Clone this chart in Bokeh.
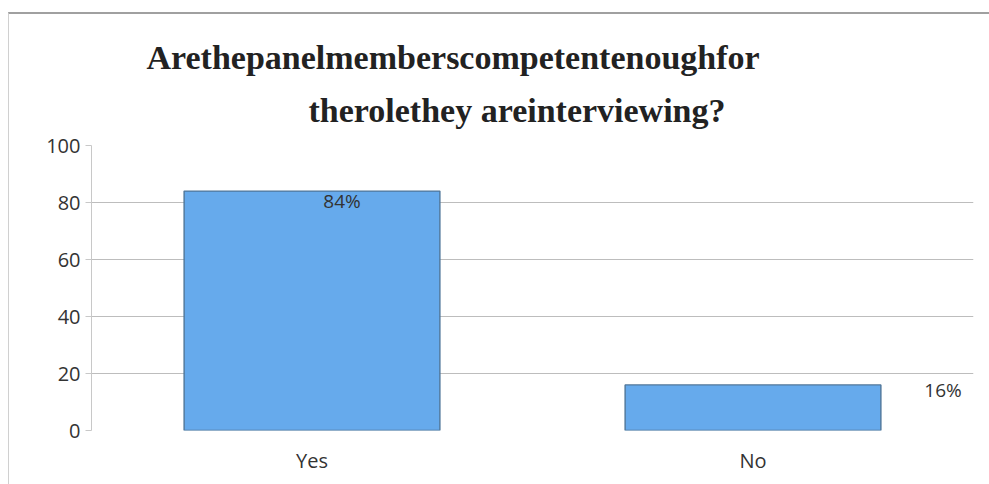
from bokeh.plotting import figure
from bokeh.models import ColumnDataSource, LabelSet, Title, FixedTicker
from bokeh.core.properties import value
from bokeh.embed import file_html
from bokeh.resources import INLINE

categories = ["Yes", "No"]
values = [84, 16]
pct_labels = ["84%", "16%"]
y_ticks = [0, 20, 40, 60, 80, 100]
title_line1 = "Arethepanelmemberscompetentenoughfor"
title_line2 = "therolethey areinterviewing?"

src = ColumnDataSource(dict(
    cat=categories, val=values, lab=pct_labels,
    xo=[30, 190], yo=[-10, -5],
))

p = figure(x_range=categories, y_range=(0, 100), width=981, height=472,
           output_backend="svg", toolbar_location=None,
           min_border_left=82, min_border_right=17, min_border_bottom=56,
           min_border_top=131)
p.margin = (12, 0, 0, 8)
p.styles = {"border-top": "2px solid #a0a0a0", "border-left": "1px solid #d0d0d0"}
p.title = None

p.vbar(x="cat", top="val", width=0.58, source=src,
       fill_color="#66aaec", line_color="#4f7699", line_width=1.4)

labels = LabelSet(x="cat", y="val", text="lab", source=src,
                  x_offset="xo", y_offset="yo", text_align="center",
                  text_baseline="middle", text_font=value("Open Sans"),
                  text_font_size="19px", text_color="#333333")
p.add_layout(labels)

t2 = Title(text=title_line2, align="left", offset=217,
           text_font="Liberation Serif", text_font_size="34px",
           text_font_style="bold", text_color="#222222", standoff=34)
t1 = Title(text=title_line1, align="left", offset=55,
           text_font="Liberation Serif", text_font_size="34px",
           text_font_style="bold", text_color="#222222", standoff=-6)
p.add_layout(t2, "above")
p.add_layout(t1, "above")

p.yaxis.ticker = FixedTicker(ticks=y_ticks)
p.yaxis.major_label_text_font = "Open Sans"
p.yaxis.major_label_text_font_size = "20px"
p.yaxis.major_label_text_color = "#333333"
p.yaxis.axis_line_color = "#c8c8c8"
p.yaxis.major_tick_line_color = "#c8c8c8"
p.yaxis.major_tick_out = 6
p.yaxis.major_tick_in = 0
p.yaxis.minor_tick_line_color = None

p.xaxis.major_label_text_font = "Open Sans"
p.xaxis.major_label_text_font_size = "20px"
p.xaxis.major_label_text_color = "#333333"
p.xaxis.axis_line_color = None
p.xaxis.major_tick_line_color = None
p.xaxis.major_label_standoff = 10

p.xgrid.grid_line_color = None
p.ygrid.grid_line_color = "#bdbdbd"
p.outline_line_color = None
p.x_range.range_padding = 0

open("out.html", "w").write(file_html(p, INLINE))
